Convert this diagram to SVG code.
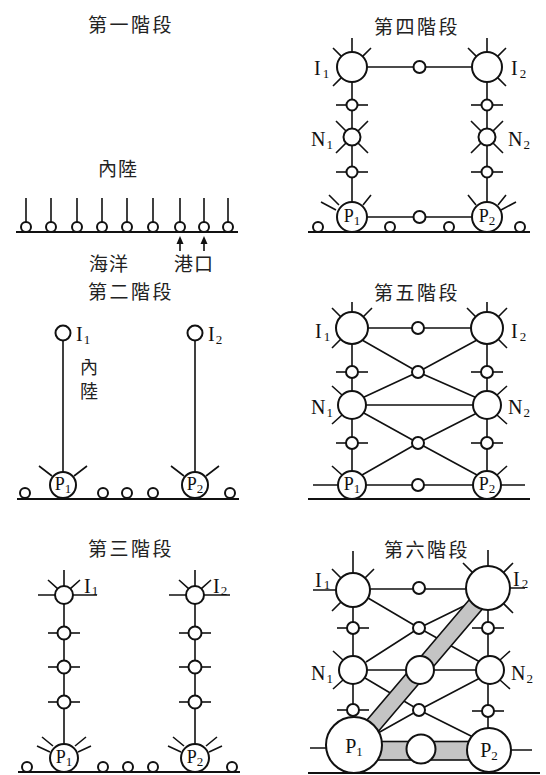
<svg xmlns="http://www.w3.org/2000/svg" width="546" height="775" viewBox="0 0 546 775">
<style>
.ln{stroke:#111;stroke-width:1.6;fill:none}
.gd{stroke:#111;stroke-width:2.2;fill:none}
.nd{fill:#fff;stroke:#111;stroke-width:2}
.band{fill:#c4c4c4;stroke:#111;stroke-width:1.6}
.ti{font-family:"Noto Sans CJK TC","Noto Sans CJK JP",sans-serif;font-size:19px;fill:#222;letter-spacing:2.5px}
.cj{font-family:"Noto Sans CJK TC","Noto Sans CJK JP",sans-serif;font-size:19px;fill:#222;letter-spacing:1px}
.lb{font-family:"Liberation Serif","Times New Roman",serif;font-size:20px;fill:#111}
.pl{font-family:"Liberation Serif","Times New Roman",serif;font-size:18px;fill:#111}
.sb{font-size:13px}
</style>
<rect width="546" height="775" fill="#fff"/>

<!-- ========== Stage 1 ========== -->
<text class="ti" x="131" y="32" text-anchor="middle">第一階段</text>
<text class="cj" x="118" y="176" text-anchor="middle">內陸</text>
<text class="cj" x="109" y="271" text-anchor="middle">海洋</text>
<text class="cj" x="194" y="271" text-anchor="middle">港口</text>
<g id="s1-connectors">
  <path class="ln" d="M26 198V222M51 198V222M77 198V222M102 198V222M127 198V222M153 198V222M180 198V222M204 198V222M228 198V222"/>
  <path class="gd" d="M16 232H238"/>
  <path class="ln" d="M180 251V242M204 251V242"/>
  <polygon points="180,236 176.5,244 183.5,244" fill="#111"/>
  <polygon points="204,236 200.5,244 207.5,244" fill="#111"/>
</g>
<g id="s1-nodes">
  <circle class="nd" cx="26" cy="227" r="5"/>
  <circle class="nd" cx="51" cy="227" r="5"/>
  <circle class="nd" cx="77" cy="227" r="5"/>
  <circle class="nd" cx="102" cy="227" r="5"/>
  <circle class="nd" cx="127" cy="227" r="5"/>
  <circle class="nd" cx="153" cy="227" r="5"/>
  <circle class="nd" cx="180" cy="227" r="5"/>
  <circle class="nd" cx="204" cy="227" r="5"/>
  <circle class="nd" cx="228" cy="227" r="5"/>
</g>

<!-- ========== Stage 2 ========== -->
<text class="ti" x="131" y="299" text-anchor="middle">第二階段</text>
<text class="cj" x="89" y="374" text-anchor="middle" style="font-size:18px;letter-spacing:0">內</text>
<text class="cj" x="89" y="398" text-anchor="middle" style="font-size:18px;letter-spacing:0">陸</text>
<g id="s2-connectors">
  <path class="ln" d="M63 333V485M195 333V485"/>
  <path class="gd" d="M17 499H239"/>
</g>
<g id="s2-I1"><circle class="nd" cx="63" cy="333" r="7.5"/><text class="lb" x="76" y="341">I<tspan class="sb" dx="1" dy="3">1</tspan></text></g>
<g id="s2-I2"><circle class="nd" cx="195" cy="333" r="7.5"/><text class="lb" x="208" y="341">I<tspan class="sb" dx="1" dy="3">2</tspan></text></g>
<g id="s2-P1"><path class="ln" d="M39 466L52 476M74 476L87 466"/><circle class="nd" cx="63" cy="485" r="13"/><text class="pl" x="63" y="490" text-anchor="middle">P<tspan class="sb" dy="3">1</tspan></text></g>
<g id="s2-P2"><path class="ln" d="M171 466L184 476M206 476L219 466"/><circle class="nd" cx="195" cy="485" r="13"/><text class="pl" x="195" y="490" text-anchor="middle">P<tspan class="sb" dy="3">2</tspan></text></g>
<g id="s2-coast">
  <circle class="nd" cx="25" cy="493" r="5"/>
  <circle class="nd" cx="103" cy="493" r="5"/>
  <circle class="nd" cx="127" cy="493" r="5"/>
  <circle class="nd" cx="153" cy="493" r="5"/>
  <circle class="nd" cx="230" cy="493" r="5"/>
</g>

<!-- ========== Stage 3 ========== -->
<text class="ti" x="131" y="556" text-anchor="middle">第三階段</text>
<g id="s3-connectors">
  <path class="ln" d="M64 595V758M195 595V758"/>
  <path class="gd" d="M18 772H240"/>
</g>
<g id="s3-I1"><path class="ln" d="M64 586V570M57.6 588.6L48 580M70.4 588.6L80 580M55 595H38M73 595H97"/><circle class="nd" cx="64" cy="595" r="9"/><text class="lb" x="84" y="593">I<tspan class="sb" dx="1" dy="2">1</tspan></text></g>
<g id="s3-I2"><path class="ln" d="M195 586V570M188.6 588.6L179 580M201.4 588.6L211 580M186 595H169M204 595H230"/><circle class="nd" cx="195" cy="595" r="9"/><text class="lb" x="213" y="593">I<tspan class="sb" dx="1" dy="2">2</tspan></text></g>
<g id="s3-a1"><path class="ln" d="M48 633H80"/><circle class="nd" cx="64" cy="633" r="6.5"/></g>
<g id="s3-a2"><path class="ln" d="M48 667H80"/><circle class="nd" cx="64" cy="667" r="6.5"/></g>
<g id="s3-a3"><path class="ln" d="M48 702H80"/><circle class="nd" cx="64" cy="702" r="6.5"/></g>
<g id="s3-b1"><path class="ln" d="M179 633H211"/><circle class="nd" cx="195" cy="633" r="6.5"/></g>
<g id="s3-b2"><path class="ln" d="M179 667H211"/><circle class="nd" cx="195" cy="667" r="6.5"/></g>
<g id="s3-b3"><path class="ln" d="M179 702H211"/><circle class="nd" cx="195" cy="702" r="6.5"/></g>
<g id="s3-P1"><path class="ln" d="M53 746L42 737M50 752L37 746M75 746L86 737M78 752L91 746"/><circle class="nd" cx="64" cy="758" r="14"/><text class="pl" x="64" y="763" text-anchor="middle">P<tspan class="sb" dy="3">1</tspan></text></g>
<g id="s3-P2"><path class="ln" d="M184 746L173 737M181 752L168 746M206 746L217 737M209 752L222 746"/><circle class="nd" cx="195" cy="758" r="14"/><text class="pl" x="195" y="763" text-anchor="middle">P<tspan class="sb" dy="3">2</tspan></text></g>
<g id="s3-coast">
  <circle class="nd" cx="27" cy="767" r="5"/>
  <circle class="nd" cx="103" cy="767" r="5"/>
  <circle class="nd" cx="128" cy="767" r="5"/>
  <circle class="nd" cx="153" cy="767" r="5"/>
  <circle class="nd" cx="232" cy="767" r="5"/>
</g>

<!-- ========== Stage 4 ========== -->
<text class="ti" x="417" y="34" text-anchor="middle">第四階段</text>
<g id="s4-connectors">
  <path class="ln" d="M352 67H487M352 67V217M487 67V217M352 217H487"/>
  <path class="gd" d="M308 232H530"/>
</g>
<g id="s4-I1"><path class="ln" d="M352 52V38M341.4 56.4L333 48M362.6 56.4L371 48M341.4 77.6L333 86"/><circle class="nd" cx="352" cy="67" r="15"/><text class="lb" x="314" y="75">I<tspan class="sb" dx="2" dy="3">1</tspan></text></g>
<g id="s4-I2"><path class="ln" d="M487 52V38M476.4 56.4L468 48M497.6 56.4L506 48M497.6 77.6L506 86"/><circle class="nd" cx="487" cy="67" r="15"/><text class="lb" x="511" y="75">I<tspan class="sb" dx="2" dy="3">2</tspan></text></g>
<g id="s4-m1"><circle class="nd" cx="419.5" cy="67" r="6"/></g>
<g id="s4-a1"><path class="ln" d="M336 105H368"/><circle class="nd" cx="352" cy="105" r="5.5"/></g>
<g id="s4-a2"><path class="ln" d="M336 172H368"/><circle class="nd" cx="352" cy="172" r="5.5"/></g>
<g id="s4-b1"><path class="ln" d="M471 105H503"/><circle class="nd" cx="487" cy="105" r="5.5"/></g>
<g id="s4-b2"><path class="ln" d="M471 172H503"/><circle class="nd" cx="487" cy="172" r="5.5"/></g>
<g id="s4-N1"><path class="ln" d="M346 131L336 121M358 131L368 121M346 143L336 153M358 143L368 153"/><circle class="nd" cx="352" cy="137" r="8.5"/><text class="lb" x="311" y="146">N<tspan class="sb" dx="1" dy="3">1</tspan></text></g>
<g id="s4-N2"><path class="ln" d="M481 131L471 121M493 131L503 121M481 143L471 153M493 143L503 153"/><circle class="nd" cx="487" cy="137" r="8.5"/><text class="lb" x="508" y="146">N<tspan class="sb" dx="1" dy="3">2</tspan></text></g>
<g id="s4-P1"><path class="ln" d="M339 205L329 195M336 210L321 202M363 205L371 195"/><circle class="nd" cx="352" cy="217" r="15"/><text class="pl" x="352" y="222" text-anchor="middle">P<tspan class="sb" dy="3">1</tspan></text></g>
<g id="s4-P2"><path class="ln" d="M476 205L468 195M498 205L506 195M501 210L516 202"/><circle class="nd" cx="487" cy="217" r="15"/><text class="pl" x="487" y="222" text-anchor="middle">P<tspan class="sb" dy="3">2</tspan></text></g>
<g id="s4-m2"><circle class="nd" cx="419.5" cy="217" r="6"/></g>
<g id="s4-coast">
  <circle class="nd" cx="318" cy="227" r="5"/>
  <circle class="nd" cx="390" cy="227" r="5"/>
  <circle class="nd" cx="449" cy="227" r="5"/>
  <circle class="nd" cx="520" cy="227" r="5"/>
</g>

<!-- ========== Stage 5 ========== -->
<text class="ti" x="417" y="300" text-anchor="middle">第五階段</text>
<g id="s5-connectors">
  <path class="ln" d="M352 328H487M352 328V485M487 328V485M352 405H487M313 485H525"/>
  <path class="ln" d="M362 340L418 372L477 398M362 398L418 372L477 340M362 412L418 443L477 475M362 475L418 443L477 413"/>
  <path class="gd" d="M308 499H530"/>
</g>
<g id="s5-I1"><path class="ln" d="M352 312V302M340.7 316.7L332 308M363.3 316.7L372 308M340.7 339.3L332 348"/><circle class="nd" cx="352" cy="328" r="16"/><text class="lb" x="315" y="338">I<tspan class="sb" dx="2" dy="3">1</tspan></text></g>
<g id="s5-I2"><path class="ln" d="M487 312V302M475.7 316.7L467 308M498.3 316.7L507 308M498.3 339.3L507 348"/><circle class="nd" cx="487" cy="328" r="16"/><text class="lb" x="511" y="338">I<tspan class="sb" dx="2" dy="3">2</tspan></text></g>
<g id="s5-m1"><circle class="nd" cx="418" cy="328" r="6"/></g>
<g id="s5-x1"><circle class="nd" cx="418" cy="372" r="6"/></g>
<g id="s5-x2"><circle class="nd" cx="418" cy="443" r="6"/></g>
<g id="s5-a1"><path class="ln" d="M336 372H368"/><circle class="nd" cx="352" cy="372" r="6"/></g>
<g id="s5-a2"><path class="ln" d="M336 443H368"/><circle class="nd" cx="352" cy="443" r="6"/></g>
<g id="s5-b1"><path class="ln" d="M471 372H503"/><circle class="nd" cx="487" cy="372" r="6"/></g>
<g id="s5-b2"><path class="ln" d="M471 443H503"/><circle class="nd" cx="487" cy="443" r="6"/></g>
<g id="s5-N1"><path class="ln" d="M342 395L332 386M342 415L332 424"/><circle class="nd" cx="352" cy="405" r="14"/><text class="lb" x="311" y="414">N<tspan class="sb" dx="1" dy="3">1</tspan></text></g>
<g id="s5-N2"><path class="ln" d="M497 395L507 386M497 415L507 424"/><circle class="nd" cx="487" cy="405" r="14"/><text class="lb" x="508" y="414">N<tspan class="sb" dx="1" dy="3">2</tspan></text></g>
<g id="s5-P1"><path class="ln" d="M342 475L332 466"/><circle class="nd" cx="352" cy="485" r="14"/><text class="pl" x="352" y="490" text-anchor="middle">P<tspan class="sb" dy="3">1</tspan></text></g>
<g id="s5-P2"><path class="ln" d="M497 475L507 466"/><circle class="nd" cx="487" cy="485" r="14"/><text class="pl" x="487" y="490" text-anchor="middle">P<tspan class="sb" dy="3">2</tspan></text></g>
<g id="s5-m2"><circle class="nd" cx="418" cy="485" r="6"/></g>

<!-- ========== Stage 6 ========== -->
<text class="ti" x="427" y="557" text-anchor="middle">第六階段</text>
<g id="s6-connectors">
  <path class="ln" d="M353 589H488M353 590V745M488 588V750M353 670H490M310 748H332M508 750H532"/>
  <path class="ln" d="M368 598L419 628L480 662M366 662L419 628L470 603M365 678L419 710L475 738M378 733L419 710L480 678"/>
  <polygon class="band" points="477.5,590 498.5,590 366.75,745 345.75,745"/>
  <rect class="band" x="376" y="741.5" width="96" height="18.5"/>
  <path class="gd" d="M308 773H540"/>
</g>
<g id="s6-I1"><path class="ln" d="M313 590H336M341 578L332 569M353 573V551M365 578L374 569M341 602L332 611"/><circle class="nd" cx="353" cy="590" r="17"/><text class="lb" x="315" y="587">I<tspan class="sb" dx="2" dy="2">1</tspan></text></g>
<g id="s6-I2"><path class="ln" d="M488 566V550M472.4 572.4L463 563M503.6 572.4L513 563M510 588H525M503.6 603.6L513 613"/><circle class="nd" cx="488" cy="588" r="22"/><text class="lb" x="513" y="586">I<tspan class="sb" dx="2" dy="2">2</tspan></text></g>
<g id="s6-m1"><circle class="nd" cx="419" cy="588" r="6"/></g>
<g id="s6-a1"><path class="ln" d="M337 628H369"/><circle class="nd" cx="353" cy="628" r="6"/></g>
<g id="s6-x1"><circle class="nd" cx="419" cy="628" r="6"/></g>
<g id="s6-b1"><path class="ln" d="M472 628H504"/><circle class="nd" cx="488" cy="628" r="6"/></g>
<g id="s6-N1"><path class="ln" d="M343 660L333 651M343 680L333 689"/><circle class="nd" cx="353" cy="670" r="14"/><text class="lb" x="311" y="680">N<tspan class="sb" dx="1" dy="3">1</tspan></text></g>
<g id="s6-C"><circle class="nd" cx="420" cy="670" r="14"/></g>
<g id="s6-N2"><path class="ln" d="M500 660L510 651M500 680L510 689"/><circle class="nd" cx="490" cy="670" r="14"/><text class="lb" x="511" y="680">N<tspan class="sb" dx="1" dy="3">2</tspan></text></g>
<g id="s6-a2"><path class="ln" d="M337 710H369"/><circle class="nd" cx="353" cy="710" r="6"/></g>
<g id="s6-x2"><circle class="nd" cx="419" cy="710" r="6"/></g>
<g id="s6-b2"><path class="ln" d="M472 711H504"/><circle class="nd" cx="488" cy="711" r="6"/></g>
<g id="s6-P1"><circle class="nd" cx="354" cy="745" r="28"/><text class="lb" x="354" y="753" text-anchor="middle">P<tspan class="sb" dy="3">1</tspan></text></g>
<g id="s6-m2"><circle class="nd" cx="421" cy="749" r="14.5"/></g>
<g id="s6-P2"><circle class="nd" cx="489" cy="750" r="22"/><text class="lb" x="489" y="757" text-anchor="middle">P<tspan class="sb" dy="3">2</tspan></text></g>
</svg>
